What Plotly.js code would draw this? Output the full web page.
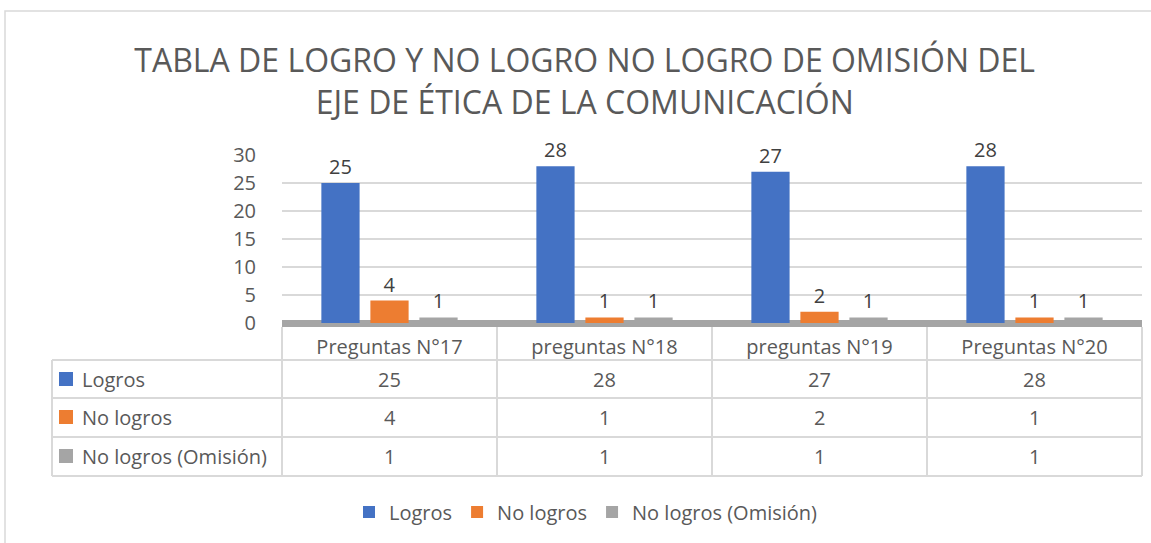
<!DOCTYPE html>
<html>
<head>
<meta charset="utf-8">
<script src="https://cdn.plot.ly/plotly-3.0.1.min.js"></script>
<style>html,body{margin:0;padding:0;background:#fff;}#chart{width:1151px;height:543px;}</style>
</head>
<body>
<div id="chart"></div>
<script>
const categories = ["Preguntas N°17", "preguntas N°18", "preguntas N°19", "Preguntas N°20"];
const seriesNames = ["Logros", "No logros", "No logros (Omisión)"];
const logros = [25, 28, 27, 28];
const noLogros = [4, 1, 2, 1];
const omision = [1, 1, 1, 1];
const colors = ["#4472C4", "#ED7D31", "#A5A5A5"];
const titleText = "TABLA DE LOGRO Y NO LOGRO NO LOGRO DE OMISIÓN DEL<br>EJE DE ÉTICA DE LA COMUNICACIÓN";

const seriesValues = [logros, noLogros, omision];
const FONT = "Open Sans, sans-serif";
const TXT = "#595959";
const GRID = "#d9d9d9";

// pixel -> paper helpers (layout only)
const L = 282, R = 1142, B = 323, T = 155;
const fx = p => (p - L) / (R - L);
const fy = p => (B - p) / (B - T);

const traces = seriesValues.map((vals, i) => ({
  type: "bar",
  name: seriesNames[i],
  x: categories,
  y: vals,
  marker: {color: colors[i]},
  text: vals.map(String),
  textposition: "outside",
  textfont: {family: FONT, size: 20, color: "#404040"},
  cliponaxis: false,
  hoverinfo: "none"
}));

const shapes = [];
const annotations = [];
const lineStyle = {color: GRID, width: 2};
// outer chart border
shapes.push({type: "rect", xref: "paper", yref: "paper", x0: fx(5), x1: fx(1165), y0: fy(560), y1: fy(11), line: {color: "#d9d9d9", width: 1.5}, fillcolor: "rgba(0,0,0,0)", layer: "below"});
// table rows
const rowLines = [360, 398, 437, 476];
rowLines.forEach(p => shapes.push({type: "line", xref: "paper", yref: "paper", x0: fx(52), x1: fx(R), y0: fy(p), y1: fy(p), line: lineStyle}));
// vertical lines
const colLines = [282, 497, 712, 927, 1142];
colLines.forEach(p => shapes.push({type: "line", xref: "paper", yref: "paper", x0: fx(p), x1: fx(p), y0: fy(B + 4), y1: fy(476), line: lineStyle}));
shapes.push({type: "line", xref: "paper", yref: "paper", x0: fx(52), x1: fx(52), y0: fy(360), y1: fy(476), line: lineStyle});

const rowCenters = [379, 417, 456];
seriesValues.forEach((vals, i) => {
  const yc = fy(rowCenters[i]);
  shapes.push({type: "rect", xref: "paper", yref: "paper", x0: fx(59), x1: fx(73), y0: fy(rowCenters[i] + 7), y1: fy(rowCenters[i] - 7), fillcolor: colors[i], line: {width: 0}});
  annotations.push({xref: "paper", yref: "paper", x: fx(80), y: yc, xanchor: "left", yanchor: "middle", text: seriesNames[i], showarrow: false, font: {family: FONT, size: 20, color: TXT}});
  vals.forEach((v, j) => {
    annotations.push({xref: "x", yref: "paper", x: categories[j], y: yc, xanchor: "center", yanchor: "middle", text: String(v), showarrow: false, font: {family: FONT, size: 20, color: TXT}});
  });
});

const layout = {
  width: 1151, height: 543,
  margin: {l: L, r: 1151 - R, t: T, b: 543 - B},
  paper_bgcolor: "#fff", plot_bgcolor: "#fff",
  font: {family: FONT, color: TXT},
  title: {text: titleText, x: 0.508, xanchor: "center", y: 1 - 72 / 543, yanchor: "middle", font: {family: FONT, size: 32, color: TXT}},
  barmode: "group",
  bargap: 0.316,
  bargroupgap: 0.22,
  showlegend: true,
  legend: {orientation: "h", x: fx(586), xanchor: "center", y: fy(512), yanchor: "middle", font: {family: FONT, size: 20, color: TXT}, traceorder: "normal"},
  xaxis: {showgrid: false, showline: false, zeroline: false, ticks: "outside", ticklen: 6, tickcolor: "rgba(0,0,0,0)", tickfont: {family: FONT, size: 20, color: TXT}, fixedrange: true},
  yaxis: {range: [0, 30], dtick: 5, showgrid: true, gridcolor: GRID, gridwidth: 1.5, zeroline: true, zerolinecolor: "#A5A5A5", zerolinewidth: 7, showline: false, ticks: "outside", ticklen: 21, tickcolor: "rgba(0,0,0,0)", tickfont: {family: FONT, size: 20, color: TXT}, fixedrange: true},
  shapes: shapes,
  annotations: annotations
};

Plotly.newPlot("chart", traces, layout, {displayModeBar: false, staticPlot: true});
</script>
</body>
</html>
